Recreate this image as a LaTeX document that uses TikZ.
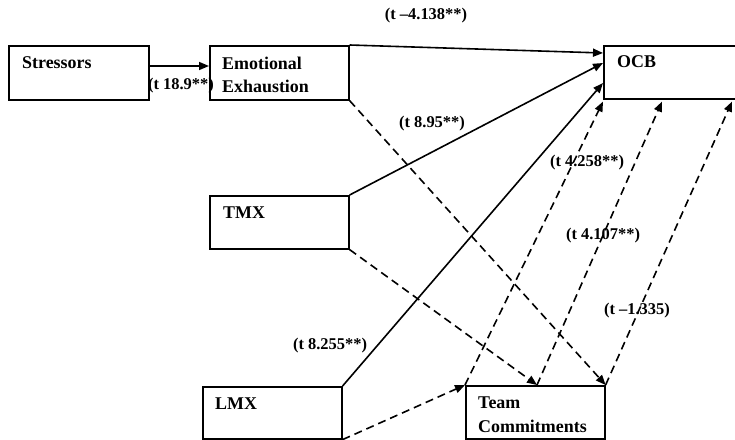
\documentclass[tikz,border=0pt]{standalone}
\usepackage{fontspec}
\setmainfont{Liberation Serif}
\usetikzlibrary{arrows.meta,calc}
\begin{document}
\begin{tikzpicture}[x=1bp,y=-1bp,
  box/.style={draw, line width=1.6bp, rectangle, inner sep=0pt, anchor=north west},
  boxtext/.style={anchor=base west, inner sep=0pt, font=\fontsize{18}{24}\selectfont\bfseries, align=left},
  tlab/.style={anchor=base, inner sep=0pt, font=\fontsize{16.5}{20}\selectfont\bfseries},
  conn/.style={line width=1.6bp, -{Triangle[length=10bp,width=8bp]}},
  dconn/.style={conn, dash pattern=on 8bp off 5bp},
]
\useasboundingbox (0,0) rectangle (735,440);
\clip (0,0) rectangle (735,440);
% boxes
\node[box, minimum width=140bp, minimum height=54bp] (stress) at (8,45) {};
\node[box, minimum width=139bp, minimum height=54bp] (ee) at (209,45) {};
\node[box, minimum width=140bp, minimum height=53bp] (ocb) at (603,45) {};
\node[box, minimum width=139bp, minimum height=53bp] (tmx) at (209,195) {};
\node[box, minimum width=139bp, minimum height=52bp] (lmx) at (202,386) {};
\node[box, minimum width=139bp, minimum height=53bp] (tc) at (465,385) {};
% box texts (base west of a two-line node is the baseline of its last line)
\node[boxtext] (stresst) at ($(stress.north west)+(14,24)$) {Stressors};
\node[boxtext] (eet) at ($(ee.north west)+(13,48)$) {Emotional\\Exhaustion};
\node[boxtext] (ocbt) at ($(ocb.north west)+(14,23)$) {OCB};
\node[boxtext] (tmxt) at ($(tmx.north west)+(14,24)$) {TMX};
\node[boxtext] (lmxt) at ($(lmx.north west)+(13,23)$) {LMX};
\node[boxtext] (tct) at ($(tc.north west)+(13,47)$) {Team\\Commitments};
% helper points
\coordinate (tcmid) at ($(tc.north west)+(72,0)$);
\coordinate (ocbb1) at ($(ocb.south west)+(0,2)$);
\coordinate (ocbb2) at ($(ocb.south west)+(59,2)$);
\coordinate (ocbb3) at ($(ocb.south west)+(129,2)$);
% solid connectors
\draw[conn] ($(stress.north east)+(0,21)$) -- ($(ee.north west)+(0,21)$);
\draw[conn] (ee.north east) -- ($(ocb.north west)+(0,8)$);
\draw[conn] (tmx.north east) -- ($(ocb.north west)+(0,18)$);
\draw[conn] (lmx.north east) -- ($(ocb.north west)+(0,38)$);
% dashed connectors
\draw[dconn] (ee.south east) -- (tc.north east);
\draw[dconn] (tmx.south east) -- (tcmid);
\draw[dconn] (lmx.south east) -- (tc.north west);
\draw[dconn] (tc.north west) -- (ocbb1);
\draw[dconn] (tcmid) -- (ocbb2);
\draw[dconn] (tc.north east) -- (ocbb3);
% labels
\node[tlab] (l1) at (181,90) {(t 18.9**)};
\node[tlab] (l2) at (426,20) {(t –4.138**)};
\node[tlab] (l3) at (432,128) {(t 8.95**)};
\node[tlab] (l4) at (330,350) {(t 8.255**)};
\node[tlab] (l5) at (587,167) {(t 4.258**)};
\node[tlab] (l6) at (603,240) {(t 4.107**)};
\node[tlab] (l7) at (637,315) {(t –1.335)};
\end{tikzpicture}
\end{document}
